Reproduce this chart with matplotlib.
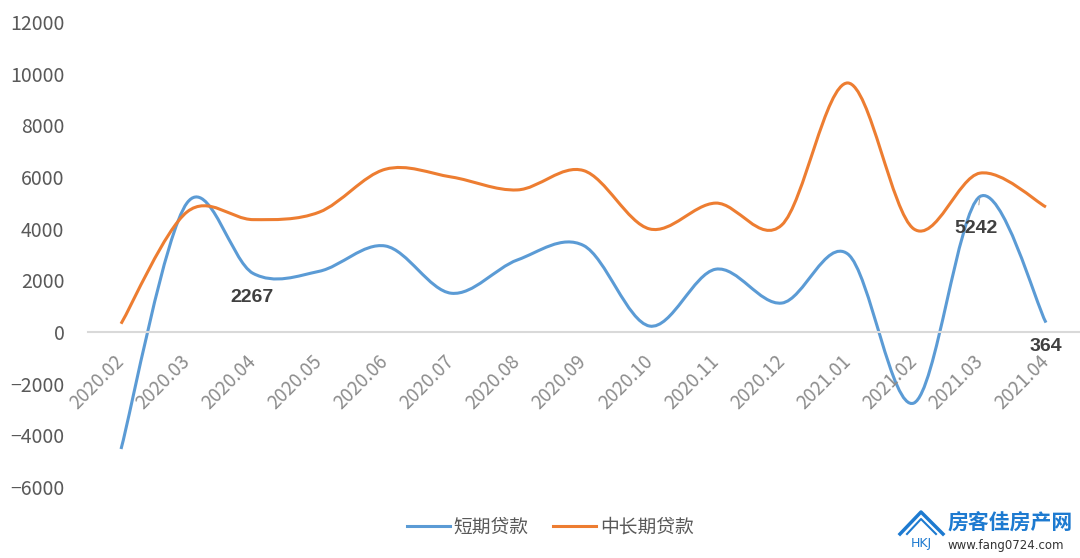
import matplotlib
matplotlib.use("Agg")
import matplotlib.pyplot as plt
from matplotlib.path import Path
from matplotlib.patches import PathPatch
from matplotlib.lines import Line2D

plt.rcParams['font.family'] = ['Noto Sans CJK SC', 'DejaVu Sans']

# dados
meses = ["2020.02", "2020.03", "2020.04", "2020.05", "2020.06", "2020.07", "2020.08",
         "2020.09", "2020.10", "2020.11", "2020.12", "2021.01", "2021.02", "2021.03", "2021.04"]
curto_prazo = [-4530, 5000, 2267, 2350, 3330, 1500, 2790, 3350, 230, 2430, 1120, 3020, -2750, 5242, 364]
longo_prazo = [320, 4650, 4350, 4640, 6300, 6000, 5500, 6250, 3990, 4990, 4140, 9640, 3990, 6150, 4840]
nomes = ["短期贷款", "中长期贷款"]
rotulos = {2: 2267, 13: 5242, 14: 364}  # índice do mês -> valor mostrado

azul = "#5B9BD5"
laranja = "#ED7D31"
cinza_txt = "#595959"


# curva suavizada no estilo do Excel (bezier tipo catmull-rom)
def curva_suave(xs, ys):
    pts = list(zip(xs, ys))
    verts = [pts[0]]
    codes = [Path.MOVETO]
    n = len(pts)
    for i in range(n - 1):
        p0 = pts[i - 1] if i > 0 else pts[i]
        p1 = pts[i]
        p2 = pts[i + 1]
        p3 = pts[i + 2] if i + 2 < n else pts[i + 1]
        c1 = (p1[0] + (p2[0] - p0[0]) / 6, p1[1] + (p2[1] - p0[1]) / 6)
        c2 = (p2[0] - (p3[0] - p1[0]) / 6, p2[1] - (p3[1] - p1[1]) / 6)
        verts += [c1, c2, p2]
        codes += [Path.CURVE4] * 3
    return Path(verts, codes)


fig = plt.figure(figsize=(10.8, 5.58), dpi=100)
ax = fig.add_axes([88 / 1080, 1 - 487 / 558, (1079 - 88) / 1080, (487 - 22) / 558])

# eixo x passa pelo zero (antes de mexer nos ticks, senão eles são recriados)
for s in ['top', 'right', 'left']:
    ax.spines[s].set_visible(False)
ax.spines['bottom'].set_position(('data', 0))
ax.spines['bottom'].set_color("#d9d9d9")
ax.spines['bottom'].set_linewidth(1.5)

x = list(range(len(meses)))
for serie, cor in [(curto_prazo, azul), (longo_prazo, laranja)]:
    ax.add_patch(PathPatch(curva_suave(x, serie), fill=False, edgecolor=cor,
                           lw=2.2, capstyle='butt', transform=ax.transData))

# o rótulo 5242 foi arrastado um pouco no original (tem linha guia)
desloc = {2: (-1, -17), 13: (-3, -23), 14: (0, -17)}
for i, v in rotulos.items():
    guia = dict(arrowstyle='-', color='#a6a6a6', lw=0.8, shrinkA=9, shrinkB=1) if i == 13 else None
    ax.annotate(str(v), (x[i], curto_prazo[i]), xytext=desloc[i], textcoords='offset points',
                ha='center', va='center', fontsize=14, fontweight='bold', color="#404040",
                family='Liberation Sans', arrowprops=guia)

ax.set_xlim(-0.5, len(meses) - 0.5)
ax.set_ylim(-6000, 12000)
ax.set_yticks(range(-6000, 12001, 2000))
ax.set_xticks(x)
ax.set_xticklabels(meses)
ax.tick_params(axis='x', length=0, pad=19, labelsize=13.5, labelcolor="#8c8c8c")
ax.tick_params(axis='y', length=0, pad=17, labelsize=14, labelcolor=cinza_txt)
for t in ax.get_xticklabels():
    t.set_rotation(45)
    t.set_ha('right')
    t.set_va('center')
    t.set_rotation_mode('anchor')

handles = [Line2D([], [], color=azul, lw=2.2), Line2D([], [], color=laranja, lw=2.2)]
fig.legend(handles, nomes, loc='center', bbox_to_anchor=(550 / 1080, 1 - 527 / 558), ncol=2,
           frameon=False, fontsize=13.5, labelcolor=cinza_txt, handlelength=2.3,
           handletextpad=0.2, columnspacing=1.3)

# marca d'água no canto
casa = "#1d7ad0"
fig.add_artist(Line2D([900 / 1080, 921 / 1080, 943 / 1080], [1 - 534 / 558, 1 - 512 / 558, 1 - 534 / 558],
                      color=casa, lw=2.5, transform=fig.transFigure))
fig.add_artist(Line2D([907 / 1080, 921 / 1080, 936 / 1080], [1 - 534 / 558, 1 - 519 / 558, 1 - 534 / 558],
                      color=casa, lw=1.5, transform=fig.transFigure))
fig.text(921 / 1080, 1 - 544 / 558, "HKJ", ha='center', va='center', fontsize=9,
         color=casa, family='DejaVu Sans')
fig.text(947 / 1080, 1 - 523 / 558, "房客佳房产网", ha='left', va='center', fontsize=15,
         fontweight='bold', color=casa)
fig.text(948 / 1080, 1 - 545 / 558, "www.fang0724.com", ha='left', va='center', fontsize=8.5,
         color="#333333", family='DejaVu Sans')

fig.savefig("out.png", dpi=100)
